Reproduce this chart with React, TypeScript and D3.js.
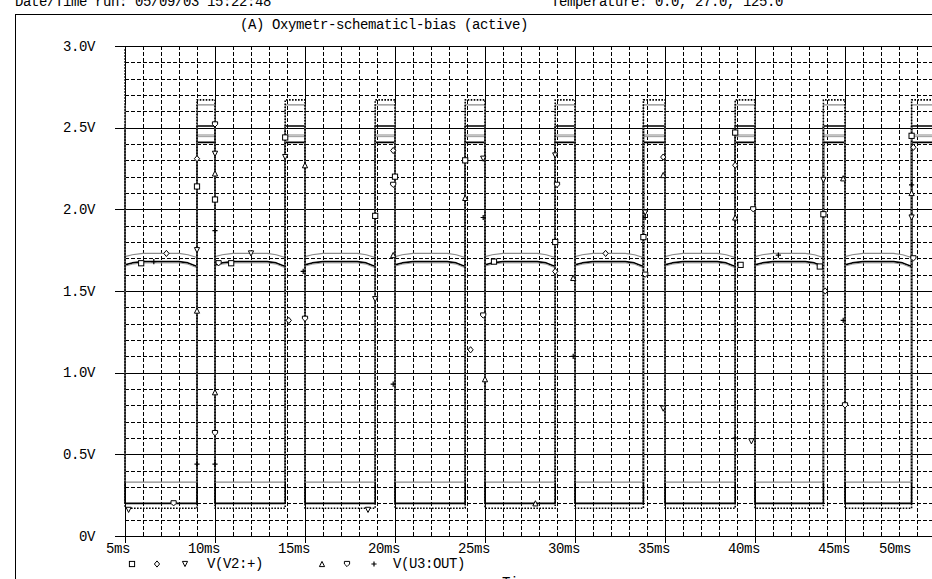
import * as d3 from "d3";

const W = 932;
const H = 579;

const xTicks = [5, 10, 15, 20, 25, 30, 35, 40, 45, 50];
const xTickLabels = ["5ms", "10ms", "15ms", "20ms", "25ms", "30ms", "35ms", "40ms", "45ms", "50ms"];
const yTicks = [0, 0.5, 1.0, 1.5, 2.0, 2.5, 3.0];
const yTickLabels = ["0V", "0.5V", "1.0V", "1.5V", "2.0V", "2.5V", "3.0V"];

// edge times (ms)
const fallTimes = [5, 10, 15, 20, 25, 30, 35, 40, 45, 50];
const riseTimes = [9.0, 13.9, 18.9, 23.9, 28.9, 33.8, 38.9, 43.8, 48.7];

// V(V2:+) at 0, 27, 125 degC
const pulseFirst = [2.51, 2.64, 2.98];
const pulseLow = [0.2, 0.33, 0.17];
const pulseHigh = [2.51, 2.64, 2.67];

// V(U3:OUT) at 0, 27, 125 degC
const outHigh = [2.41, 2.455, 2.445];
const outStart = [1.66, 1.71, 1.652];
const outClimb = [1.672, 1.722, 1.664];
const outPlateau = [1.68, 1.73, 1.672];
const outSag = [1.672, 1.722, 1.664];
const outEnd = [1.65, 1.705, 1.642];

// markers [ms, V]
const marksSquare = [[9.0, 2.14], [10, 2.06], [13.9, 2.44], [18.9, 1.96], [20, 2.2], [23.9, 2.3], [28.9, 1.8], [33.8, 1.83], [38.9, 2.47], [43.8, 1.97], [48.7, 2.45], [5.9, 1.67], [10.9, 1.67], [25.5, 1.68], [39.2, 1.66], [43.6, 1.65]];
const marksDiamond = [[9.0, 2.31], [14.1, 1.32], [19.9, 2.36], [24.2, 1.14], [28.9, 1.62], [34.9, 2.32], [38.9, 2.27], [43.9, 1.5], [48.8, 2.38], [7.3, 1.73], [31.7, 1.73]];
const marksTriDown = [[9.0, 1.75], [10, 2.34], [13.9, 2.32], [18.9, 1.45], [24.9, 2.31], [28.9, 2.33], [33.9, 1.98], [34.9, 0.78], [39.8, 0.58], [43.8, 2.18], [48.7, 1.95], [12.0, 1.73], [5.2, 0.16], [18.5, 0.16]];
const marksTriUp = [[9.0, 1.38], [10, 2.22], [10, 0.88], [15, 2.27], [19.9, 1.72], [23.9, 2.07], [25, 0.96], [29.9, 1.58], [34.9, 2.21], [38.9, 1.95], [44.9, 2.19], [48.7, 2.1], [27.8, 0.2]];
const marksCircle = [[10, 2.52], [10, 0.63], [15, 1.33], [19.9, 2.15], [24.9, 1.35], [29, 2.15], [33.9, 1.6], [39.9, 2.0], [45, 0.8], [48.8, 1.7], [7.7, 0.2], [10.2, 1.67]];
const marksPlus = [[9.0, 0.44], [10, 1.87], [10, 0.44], [14.9, 1.62], [19.9, 0.93], [24.9, 1.95], [29.9, 1.1], [33.9, 1.95], [38.9, 0.6], [44.9, 1.32], [48.7, 2.15], [6.6, 1.68], [41.3, 1.72]];

const FONT = "'Liberation Mono', 'DejaVu Sans Mono', monospace";
const FS = 14;

const x = d3.scaleLinear().domain([5, 50]).range([125, 935]);
const y = d3.scaleLinear().domain([0, 3]).range([536, 46]);

const px = (v: number) => Math.round(v) + 0.5;

const traceStyles = [
  { stroke: "#000", width: 1.6, dash: undefined },
  { stroke: "#8a8a8a", width: 1.2, dash: undefined },
  { stroke: "#000", width: 1.6, dash: "1.6,1.4" },
];
const outStyles = [
  { stroke: "#000", width: 1.6 },
  { stroke: "#8a8a8a", width: 1.2 },
  { stroke: "#9a9a9a", width: 1.0 },
];

function pulsePoints(i: number) {
  const pts: [number, number][] = [[5, pulseFirst[i]], [5, pulseLow[i]]];
  riseTimes.forEach((r, k) => {
    pts.push([r, pulseLow[i]], [r, pulseHigh[i]], [fallTimes[k + 1], pulseHigh[i]], [fallTimes[k + 1], pulseLow[i]]);
  });
  return pts;
}

function outPoints(i: number) {
  const pts: [number, number][] = [[5, outHigh[i]]];
  riseTimes.forEach((r, k) => {
    const f = fallTimes[k];
    pts.push(
      [f, outStart[i]],
      [f + 0.4, outClimb[i]],
      [f + 1, outPlateau[i]],
      [r - 1, outPlateau[i]],
      [r - 0.5, outSag[i]],
      [r, outEnd[i]],
      [r, outHigh[i]],
      [fallTimes[k + 1], outHigh[i]]
    );
  });
  return pts;
}

const line = d3
  .line<[number, number]>()
  .x((d) => x(d[0]))
  .y((d) => y(d[1]));

function Marker({ kind, cx, cy }: { kind: string; cx: number; cy: number }) {
  const s = 2.6;
  const common = { fill: "#fff", stroke: "#000", strokeWidth: 1 };
  if (kind === "square") return <rect x={cx - s} y={cy - s} width={2 * s} height={2 * s} {...common} />;
  if (kind === "diamond")
    return <path d={`M${cx},${cy - s - 0.5}L${cx + s},${cy}L${cx},${cy + s + 0.5}L${cx - s},${cy}Z`} {...common} />;
  if (kind === "triDown")
    return <path d={`M${cx - s},${cy - s}L${cx + s},${cy - s}L${cx},${cy + s}Z`} {...common} />;
  if (kind === "triUp")
    return <path d={`M${cx - s},${cy + s}L${cx + s},${cy + s}L${cx},${cy - s}Z`} {...common} />;
  if (kind === "circle")
    return <path d={`M${cx - s},${cy - s}L${cx + s},${cy - s}L${cx + s},${cy}L${cx},${cy + s}L${cx - s},${cy}Z`} {...common} />;
  return (
    <path d={`M${cx - s},${cy}H${cx + s}M${cx},${cy - s}V${cy + s}`} stroke="#000" strokeWidth={1.2} fill="none" />
  );
}

const markerSets: [string, number[][]][] = [
  ["square", marksSquare],
  ["diamond", marksDiamond],
  ["triDown", marksTriDown],
  ["triUp", marksTriUp],
  ["circle", marksCircle],
  ["plus", marksPlus],
];

export default function App() {
  const minorY = d3.range(1, 30).map((d) => d / 10).filter((v) => Math.abs(v * 2 - Math.round(v * 2)) > 1e-6);
  const minorX = d3.range(6, 50).filter((t) => t % 5 !== 0);
  const left = 115;
  const xr = x.range()[1];

  return (
    <svg
      width={W}
      height={H}
      style={{ position: "absolute", left: 0, top: 0, background: "#fff" }}
      fontFamily={FONT}
      fontSize={FS}
      letterSpacing={-0.4}
    >
      <defs>
        <clipPath id="plot">
          <rect x={x(5) - 3} y={y(3)} width={xr - x(5) + 3} height={y(0) - y(3)} />
        </clipPath>
      </defs>

      {/* header, cut by the window top */}
      <text x={15} y={6} fill="#000">Date/Time run: 05/09/03 15:22:48</text>
      <text x={551} y={6} fill="#000">Temperature: 0.0, 27.0, 125.0</text>
      <line x1={15} x2={W} y1={14.5} y2={14.5} stroke="#000" />
      <line x1={15.5} x2={15.5} y1={14} y2={H} stroke="#000" />
      <text x={240} y={29} fill="#000">(A) Oxymetr-schematicl-bias (active)</text>

      {/* grid */}
      <g shapeRendering="crispEdges">
        {minorY.map((v) => (
          <line key={"my" + v} x1={x(5)} x2={xr} y1={px(y(v))} y2={px(y(v))} stroke="#000" strokeDasharray="4,2" />
        ))}
        {minorX.map((t) => (
          <line key={"mx" + t} x1={px(x(t))} x2={px(x(t))} y1={y(3)} y2={y(0)} stroke="#000" strokeDasharray="4,2" />
        ))}
        {yTicks.map((v) => (
          <line key={"Y" + v} x1={left} x2={xr} y1={px(y(v))} y2={px(y(v))} stroke="#000" />
        ))}
        {xTicks.map((t) => (
          <line key={"X" + t} x1={px(x(t))} x2={px(x(t))} y1={y(3)} y2={y(0) + 7} stroke="#000" />
        ))}
      </g>

      {/* traces */}
      <g clipPath="url(#plot)" fill="none" strokeLinejoin="round">
        {outStyles.map((s, i) => (
          <path key={"o" + i} d={line(outPoints(i)) || ""} stroke={s.stroke} strokeWidth={s.width} />
        ))}
        {traceStyles.map((s, i) => (
          <path
            key={"p" + i}
            d={line(pulsePoints(i)) || ""}
            stroke={s.stroke}
            strokeWidth={s.width}
            strokeDasharray={s.dash}
          />
        ))}
      </g>

      <g>
        {markerSets.map(([kind, pts]) =>
          pts.map((d, j) => <Marker key={kind + j} kind={kind} cx={x(d[0])} cy={y(d[1])} />)
        )}
      </g>

      {/* axis labels */}
      {yTicks.map((v, i) => (
        <text key={"yl" + v} x={95} y={y(v) + 4.5} textAnchor="end" fill="#000">
          {yTickLabels[i]}
        </text>
      ))}
      {xTicks.map((t, i) => (
        <text key={"xl" + t} x={Math.min(x(t) + 5, W - 21)} y={553} textAnchor="end" fill="#000">
          {xTickLabels[i]}
        </text>
      ))}

      {/* legend */}
      <Marker kind="square" cx={132} cy={564} />
      <Marker kind="diamond" cx={157} cy={564} />
      <Marker kind="triDown" cx={185} cy={564} />
      <text x={207} y={568} fill="#000">V(V2:+)</text>
      <Marker kind="triUp" cx={322} cy={564} />
      <Marker kind="circle" cx={347} cy={564} />
      <Marker kind="plus" cx={374} cy={564} />
      <text x={393} y={568} fill="#000">V(U3:OUT)</text>
      <text x={502} y={587} fill="#000">Time</text>
    </svg>
  );
}
